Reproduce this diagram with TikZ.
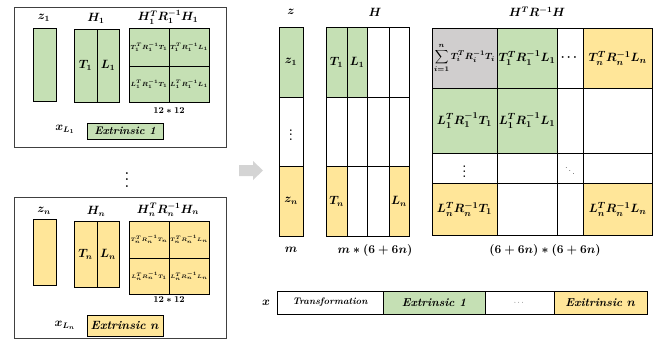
\documentclass[tikz,border=0pt]{standalone}
\usepackage{amsmath,amssymb}
\usepackage{graphicx}
\usepackage{xcolor}
\usepackage{tikz}
\usetikzlibrary{shapes,arrows,positioning}
\definecolor{blkGreen}{RGB}{197,224,180}
\definecolor{blkYellow}{RGB}{255,230,153}
\definecolor{blkGray}{RGB}{208,206,206}
\definecolor{arrGray}{RGB}{212,212,212}

\begin{document}
\begin{tikzpicture}[x=1pt, y=-1pt,
  cell/.style={draw, line width=0.9pt, inner sep=0pt, outer sep=0pt, font=\boldmath\fontsize{12}{13}\selectfont},
  tiny/.style={font=\boldmath\fontsize{5.9}{6}\selectfont},
  tinyn/.style={font=\boldmath\fontsize{5.3}{6}\selectfont},
  big/.style={font=\boldmath\fontsize{13}{14}\selectfont},
  lab/.style={inner sep=0pt, font=\boldmath\fontsize{12}{13}\selectfont},
  grp/.style={draw=black!75, line width=0.8pt, inner sep=0pt}]
  \useasboundingbox (0,0) rectangle (654,341);

  % group 1
  \node[grp, minimum width=212pt, minimum height=140pt] (grp1) at (120,77) {};
  \node[lab] (zlab1) at (44,18) {$z_1$};
  \node[lab] (hlab1) at (96,18) {$H_1$};
  \node[lab] (hrhlab1) at (168,17) {$H_1^TR_1^{-1}H_1$};
  \node[cell, fill=blkGreen, minimum width=23pt, minimum height=73pt] (z1) at (44.5,64.5) {};
  \node[cell, fill=blkGreen, minimum width=23pt, minimum height=73pt] (h1T) at (85.5,65.5) {$T_1$};
  \node[cell, fill=blkGreen, minimum width=22pt, minimum height=73pt] (h1L) at (108,65.5) {$L_1$};
  \node[cell, tiny, fill=blkGreen, minimum width=40pt, minimum height=38pt] (q1a) at (149,47) {$T_1^TR_1^{-1}T_1$};
  \node[cell, tiny, fill=blkGreen, minimum width=40pt, minimum height=38pt] (q1b) at (189,47) {$T_1^TR_1^{-1}L_1$};
  \node[cell, tiny, fill=blkGreen, minimum width=40pt, minimum height=36pt] (q1c) at (149,84) {$L_1^TR_1^{-1}T_1$};
  \node[cell, tiny, fill=blkGreen, minimum width=40pt, minimum height=36pt] (q1d) at (189,84) {$L_1^TR_1^{-1}L_1$};
  \node[lab, font=\boldmath\fontsize{9}{10}\selectfont] (sz1) at (169,111) {$12*12$};
  \node[lab] (xl1) at (65,129) {$x_{L_1}$};
  \node[cell, fill=blkGreen, minimum width=76pt, minimum height=16pt, font=\bfseries\itshape\fontsize{11}{12}\selectfont] (ext1) at (125,131) {Extrinsic 1};

  \node[lab, font=\fontsize{12}{12}\selectfont] (gdots) at (127,175) {\scalebox{1.6}{$\boldsymbol{\vdots}$}};

  % group n
  \node[grp, minimum width=212pt, minimum height=141pt] (grpn) at (120,267.5) {};
  \node[lab] (zlabn) at (44,211) {$z_n$};
  \node[lab] (hlabn) at (96,211) {$H_n$};
  \node[lab] (hrhlabn) at (168,210) {$H_n^TR_n^{-1}H_n$};
  \node[cell, fill=blkYellow, minimum width=23pt, minimum height=66pt] (zn) at (44.5,252) {};
  \node[cell, fill=blkYellow, minimum width=23pt, minimum height=66pt] (hnT) at (85.5,254) {$T_n$};
  \node[cell, fill=blkYellow, minimum width=22pt, minimum height=66pt] (hnL) at (108,254) {$L_n$};
  \node[cell, tinyn, fill=blkYellow, minimum width=40pt, minimum height=37pt] (qna) at (149,239.5) {$T_n^TR_n^{-1}T_n$};
  \node[cell, tinyn, fill=blkYellow, minimum width=40pt, minimum height=37pt] (qnb) at (189,239.5) {$T_n^TR_n^{-1}L_n$};
  \node[cell, tinyn, fill=blkYellow, minimum width=40pt, minimum height=36pt] (qnc) at (149,276) {$L_n^TR_n^{-1}T_1$};
  \node[cell, tinyn, fill=blkYellow, minimum width=40pt, minimum height=36pt] (qnd) at (189,276) {$L_n^TR_n^{-1}L_n$};
  \node[lab, font=\boldmath\fontsize{9}{10}\selectfont] (szn) at (169,300) {$12*12$};
  \node[lab] (xln) at (65,325) {$x_{L_n}$};
  \node[cell, fill=blkYellow, minimum width=76pt, minimum height=21pt, font=\bfseries\itshape\fontsize{12}{13}\selectfont] (extn) at (125,325.5) {Extrinsic $\boldsymbol{n}$};

  % arrow
  \coordinate (arr) at (251,170.5);
  \fill[arrGray] (239,165) -- (253,165) -- (253,161) -- (263,170.5) -- (253,180) -- (253,176) -- (239,176) -- cycle;

  % stacked z
  \node[lab] (zlab) at (291,12) {$z$};
  \node[cell, fill=blkGreen, minimum width=24pt, minimum height=70pt] (zz1) at (291,62) {$z_1$};
  \node[cell, font=\fontsize{14}{14}\selectfont, minimum width=24pt, minimum height=69pt] (zzd) at (291,131.5) {\scalebox{1.2}{$\boldsymbol{\vdots}$}};
  \node[cell, fill=blkYellow, minimum width=24pt, minimum height=70pt] (zzn) at (291,201) {$z_n$};
  \node[lab] (mlab) at (291,250) {$m$};

  % stacked H
  \node[lab] (hlab) at (375,12) {$H$};
  \node[cell, fill=blkGreen, minimum width=21pt, minimum height=70pt] (H-1-1) at (336.5,62) {$T_1$};
  \node[cell, fill=blkGreen, minimum width=20pt, minimum height=70pt] (H-1-2) at (357,62) {$L_1$};
  \node[cell, minimum width=22pt, minimum height=70pt] (H-1-3) at (378,62) {};
  \node[cell, minimum width=20pt, minimum height=70pt] (H-1-4) at (399,62) {};
  \node[cell, minimum width=21pt, minimum height=69pt] (H-2-1) at (336.5,131.5) {};
  \node[cell, minimum width=20pt, minimum height=69pt] (H-2-2) at (357,131.5) {};
  \node[cell, minimum width=22pt, minimum height=69pt] (H-2-3) at (378,131.5) {};
  \node[cell, minimum width=20pt, minimum height=69pt] (H-2-4) at (399,131.5) {};
  \node[cell, fill=blkYellow, minimum width=21pt, minimum height=70pt] (H-3-1) at (336.5,201) {$T_n$};
  \node[cell, minimum width=20pt, minimum height=70pt] (H-3-2) at (357,201) {};
  \node[cell, minimum width=22pt, minimum height=70pt] (H-3-3) at (378,201) {};
  \node[cell, fill=blkYellow, minimum width=20pt, minimum height=70pt] (H-3-4) at (399,201) {$L_n$};
  \node[lab] (hsz) at (375,250) {$m*(6+6n)$};

  % stacked H^T R^-1 H
  \node[lab] (hrhlab) at (537,12) {$H^TR^{-1}H$};
  \node[cell, fill=blkGray, minimum width=65pt, minimum height=60pt, font=\boldmath\fontsize{9.5}{10}\selectfont] (M-1-1) at (464.5,58) {$\displaystyle\sum_{i=1}^{n}T_i^TR_i^{-1}T_i$};
  \node[cell, big, fill=blkGreen, minimum width=60pt, minimum height=60pt] (M-1-2) at (527,58) {$T_1^TR_1^{-1}L_1$};
  \node[cell, big, minimum width=26pt, minimum height=60pt] (M-1-3) at (570,58) {$\boldsymbol{\cdots}$};
  \node[cell, big, fill=blkYellow, minimum width=69.5pt, minimum height=60pt] (M-1-4) at (617.75,58) {$T_n^TR_n^{-1}L_n$};
  \node[cell, big, fill=blkGreen, minimum width=65pt, minimum height=65pt] (M-2-1) at (464.5,120.5) {$L_1^TR_1^{-1}T_1$};
  \node[cell, big, fill=blkGreen, minimum width=60pt, minimum height=65pt] (M-2-2) at (527,120.5) {$L_1^TR_1^{-1}L_1$};
  \node[cell, minimum width=26pt, minimum height=65pt] (M-2-3) at (570,120.5) {};
  \node[cell, minimum width=69.5pt, minimum height=65pt] (M-2-4) at (617.75,120.5) {};
  \node[cell, font=\fontsize{14}{14}\selectfont, minimum width=65pt, minimum height=30pt] (M-3-1) at (464.5,168) {\scalebox{1.2}{$\boldsymbol{\vdots}$}};
  \node[cell, minimum width=60pt, minimum height=30pt] (M-3-2) at (527,168) {};
  \node[cell, font=\fontsize{9}{9}\selectfont, minimum width=26pt, minimum height=30pt] (M-3-3) at (570,168) {$\ddots$};
  \node[cell, minimum width=69.5pt, minimum height=30pt] (M-3-4) at (617.75,168) {};
  \node[cell, big, fill=blkYellow, minimum width=65pt, minimum height=52pt] (M-4-1) at (464.5,209) {$L_n^TR_n^{-1}T_1$};
  \node[cell, minimum width=60pt, minimum height=52pt] (M-4-2) at (527,209) {};
  \node[cell, minimum width=26pt, minimum height=52pt] (M-4-3) at (570,209) {};
  \node[cell, big, fill=blkYellow, minimum width=69.5pt, minimum height=52pt] (M-4-4) at (617.75,209) {$L_n^TR_n^{-1}L_n$};
  \node[lab] (msz) at (545,250) {$(6+6n)*(6+6n)$};

  % state vector
  \node[lab] (xlab) at (266,303) {$x$};
  \node[cell, minimum width=106pt, minimum height=23pt, font=\bfseries\itshape\fontsize{9.5}{10}\selectfont] (xT) at (330,302.5) {Transformation};
  \node[cell, fill=blkGreen, minimum width=102pt, minimum height=23pt, font=\bfseries\itshape\fontsize{11.5}{12}\selectfont] (xE1) at (434,302.5) {Extrinsic 1};
  \node[cell, minimum width=69pt, minimum height=23pt, font=\fontsize{7}{7}\selectfont] (xD) at (519.5,302.5) {$\cdots$};
  \node[cell, fill=blkYellow, minimum width=93pt, minimum height=23pt, font=\bfseries\itshape\fontsize{11.5}{12}\selectfont] (xEn) at (600.5,302.5) {Exitrinsic $\boldsymbol{n}$};
\end{tikzpicture}
\end{document}
